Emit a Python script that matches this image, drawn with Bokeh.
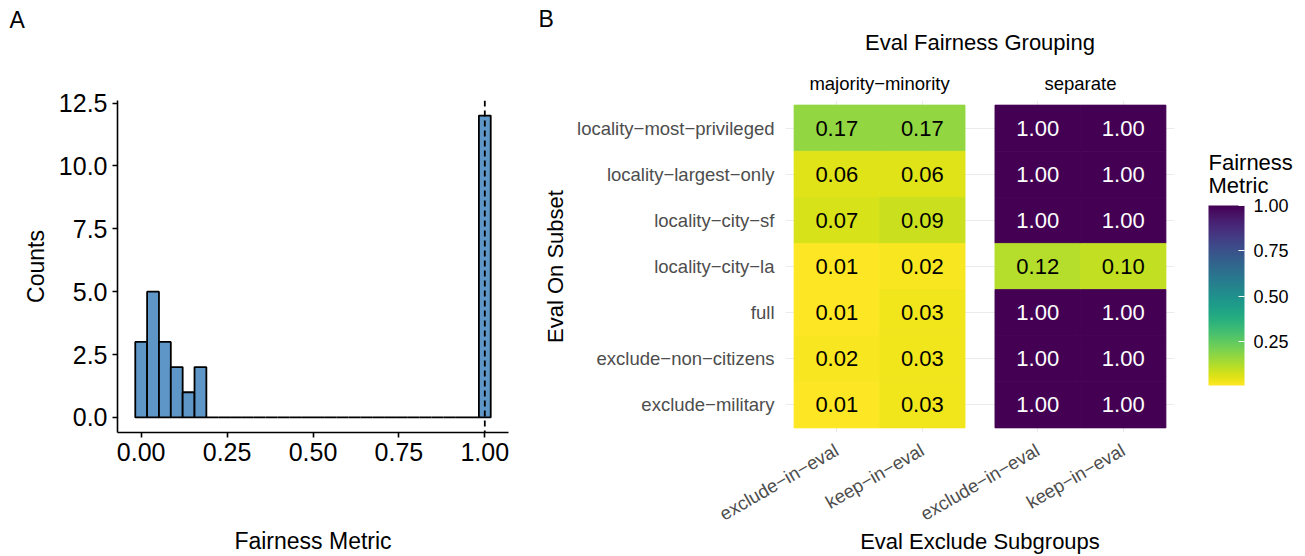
import numpy as np
from bokeh.plotting import figure
from bokeh.models import (ColumnDataSource, FactorRange, LinearColorMapper, ColorBar, FixedTicker,
                          NumeralTickFormatter, Span, Title, CategoricalAxis)
from bokeh.layouts import row
from bokeh.palettes import Viridis256
from bokeh.transform import transform
from bokeh.core.properties import value
from bokeh.embed import file_html
from bokeh.resources import INLINE

FONT = "Liberation Sans"

# ---------------- Panel A data ----------------
hist_counts = [3, 5, 3, 2, 1, 2, 0, 0, 0, 0, 0, 0, 0, 0, 0,
               0, 0, 0, 0, 0, 0, 0, 0, 0, 0, 0, 0, 0, 0, 12]
hist_binwidth = 1.0 / 29
a_xticks = [0.0, 0.25, 0.5, 0.75, 1.0]
a_yticks = [0.0, 2.5, 5.0, 7.5, 10.0, 12.5]
reference_line = 1.0

# ---------------- Panel B data ----------------
subsets = ["locality-most-privileged", "locality-largest-only", "locality-city-sf",
           "locality-city-la", "full", "exclude-non-citizens", "exclude-military"]
groupings = ["majority-minority", "separate"]
excludes = ["exclude-in-eval", "keep-in-eval"]
mm_exclude = [0.17, 0.06, 0.07, 0.01, 0.01, 0.02, 0.01]
mm_keep = [0.17, 0.06, 0.09, 0.02, 0.03, 0.03, 0.03]
sep_exclude = [1.00, 1.00, 1.00, 0.12, 1.00, 1.00, 1.00]
sep_keep = [1.00, 1.00, 1.00, 0.10, 1.00, 1.00, 1.00]
legend_title = ["Fairness", "Metric"]
legend_ticks = [0.25, 0.50, 0.75, 1.00]


def disp(s):
    return s.replace("-", "\u2212")


def panel_title(text, align, offset, standoff, size):
    t = Title(text=text, align=align, offset=offset, standoff=standoff)
    t.text_font = FONT
    t.text_font_size = size
    t.text_font_style = "normal"
    t.text_color = "black"
    return t


# ================= Panel A: histogram =================
centers = np.arange(len(hist_counts)) * hist_binwidth
srcA = ColumnDataSource(dict(left=centers - hist_binwidth / 2, right=centers + hist_binwidth / 2,
                             top=hist_counts, bottom=[0] * len(hist_counts)))
x_lo, x_hi = centers[0] - hist_binwidth / 2, centers[-1] + hist_binwidth / 2
x_pad = (x_hi - x_lo) * 0.05
y_pad = max(hist_counts) * 0.05

pA = figure(width=540, height=556, x_range=(x_lo - x_pad, x_hi + x_pad),
            y_range=(-y_pad, max(hist_counts) + y_pad), title=None,
            output_backend="svg", toolbar_location=None,
            min_border_left=117, min_border_right=32, min_border_top=100, min_border_bottom=123)
pA.quad(left="left", right="right", top="top", bottom="bottom", source=srcA,
        fill_color="#5E96C7", line_color="black", line_width=1.8)
pA.add_layout(Span(location=reference_line, dimension="height", line_color="black",
                   line_dash="6 4", line_width=1.8))
pA.xgrid.visible = False
pA.ygrid.visible = False
pA.outline_line_color = None
pA.background_fill_color = "white"
pA.border_fill_color = "white"
pA.xaxis.ticker = FixedTicker(ticks=a_xticks)
pA.yaxis.ticker = FixedTicker(ticks=a_yticks)
pA.xaxis.formatter = NumeralTickFormatter(format="0.00")
pA.yaxis.formatter = NumeralTickFormatter(format="0.0")
pA.xaxis.axis_label = "Fairness Metric"
pA.yaxis.axis_label = "Counts"
for ax in (pA.xaxis[0], pA.yaxis[0]):
    ax.axis_line_color = "black"
    ax.axis_line_width = 1.6
    ax.major_tick_line_color = "black"
    ax.major_tick_line_width = 1.6
    ax.major_tick_out = 5
    ax.major_tick_in = 0
    ax.minor_tick_line_color = None
    ax.major_label_text_font = FONT
    ax.major_label_text_font_size = "25px"
    ax.major_label_text_color = "black"
    ax.axis_label_text_font = FONT
    ax.axis_label_text_font_size = "23px"
    ax.axis_label_text_font_style = "normal"
    ax.axis_label_text_color = "black"
pA.xaxis.axis_label_standoff = 64
pA.yaxis.axis_label_standoff = 7
pA.add_layout(panel_title(" ", "left", 0, 55, "10px"), "above")   # spacer
pA.add_layout(panel_title("A", "left", -108, 0, "23px"), "above")

# ================= Panel B: heatmap =================
cols = {(groupings[0], excludes[0]): mm_exclude, (groupings[0], excludes[1]): mm_keep,
        (groupings[1], excludes[0]): sep_exclude, (groupings[1], excludes[1]): sep_keep}
xs, ys, vals, labels, tcolors = [], [], [], [], []
for (g, e), v in cols.items():
    for s, val in zip(subsets, v):
        xs.append((disp(g), disp(e)))
        ys.append(disp(s))
        vals.append(val)
        labels.append(f"{val:.2f}")
        tcolors.append("white" if val > 0.5 else "black")
srcB = ColumnDataSource(dict(x=xs, y=ys, v=vals, label=labels, tcolor=tcolors))

x_factors = [(disp(g), disp(e)) for g in groupings for e in excludes]
gp = 0.35
x_range = FactorRange(factors=x_factors, factor_padding=0.0, group_padding=gp,
                      range_padding=0.2 / (4 + gp), range_padding_units="percent")
y_factors = [disp(s) for s in subsets[::-1]]
y_range = FactorRange(factors=y_factors, range_padding=0.2 / len(y_factors),
                      range_padding_units="percent")

all_vals = mm_exclude + mm_keep + sep_exclude + sep_keep
mapper = LinearColorMapper(palette=list(Viridis256)[::-1], low=min(all_vals), high=max(all_vals))

pB = figure(width=644, height=556, x_range=x_range, y_range=y_range, title=None,
            output_backend="svg", toolbar_location=None, x_axis_location=None,
            min_border_left=245, min_border_right=10, min_border_top=100, min_border_bottom=123)
pB.rect(x="x", y="y", width=1, height=1, source=srcB,
        fill_color=transform("v", mapper), line_color=transform("v", mapper), line_width=0.8)
pB.text(x="x", y="y", text="label", source=srcB, text_color="tcolor",
        text_font=value(FONT), text_font_size="22px", text_align="center", text_baseline="middle")
pB.outline_line_color = None
pB.background_fill_color = "white"
pB.border_fill_color = "white"

xb = CategoricalAxis(axis_label="Eval Exclude Subgroups")
xb.major_label_orientation = np.pi / 6
xb.group_text_color = None
xb.major_label_standoff = 10
xt = CategoricalAxis()
xt.major_label_text_color = None
xt.group_text_color = "black"
xt.group_text_font = FONT
xt.group_text_font_size = "18.5px"
xt.group_text_font_style = "normal"
xt.major_label_standoff = 1
for ax in (xb, xt):
    ax.axis_line_color = None
    ax.major_tick_line_color = None
    ax.minor_tick_line_color = None
    ax.separator_line_color = None
    ax.major_label_text_font = FONT
    ax.major_label_text_font_size = "18.5px"
    ax.axis_label_text_font = FONT
    ax.axis_label_text_font_size = "22px"
    ax.axis_label_text_font_style = "normal"
    ax.axis_label_text_color = "black"
xb.major_label_text_color = "#4D4D4D"
xb.axis_label_standoff = -8
pB.add_layout(xb, "below")
pB.add_layout(xt, "above")
pB.add_layout(panel_title("Eval Fairness Grouping", "center", 0, 30, "22px"), "above")
pB.add_layout(panel_title("B", "left", -247, -38, "23px"), "above")

yax = pB.yaxis[0]
yax.axis_label = "Eval On Subset"
yax.axis_line_color = None
yax.major_tick_line_color = None
yax.minor_tick_line_color = None
yax.major_label_text_font = FONT
yax.major_label_text_font_size = "18.5px"
yax.major_label_text_color = "#4D4D4D"
yax.major_label_standoff = 5
yax.axis_label_text_font = FONT
yax.axis_label_text_font_size = "22px"
yax.axis_label_text_font_style = "normal"
yax.axis_label_text_color = "black"
yax.axis_label_standoff = 6

pB.xgrid.ticker = xb.ticker
pB.xgrid.grid_line_color = "#EBEBEB"
pB.ygrid.grid_line_color = "#EBEBEB"
pB.xgrid.grid_line_width = 1.2
pB.ygrid.grid_line_width = 1.2

# ================= Legend (colour bar) =================
# legend frame measured in pixels: x from its left edge, y up from its bottom edge
pC = figure(width=121, height=556, x_range=(0, 121), y_range=(0, 333), title=None,
            output_backend="svg", toolbar_location=None,
            x_axis_location=None, y_axis_location=None,
            min_border_left=0, min_border_right=0, min_border_top=100, min_border_bottom=123)
pC.xgrid.visible = False
pC.ygrid.visible = False
pC.outline_line_color = None
pC.background_fill_color = "white"
pC.border_fill_color = "white"
pC.text(x=[24, 24], y=[271, 248], text=legend_title, text_font=value(FONT),
        text_font_size="22px", text_align="left", text_baseline="middle", text_color="black")
cb = ColorBar(color_mapper=mapper, ticker=FixedTicker(ticks=legend_ticks),
              formatter=NumeralTickFormatter(format="0.00"),
              width=36, height=180, title=None,
              major_label_text_font=FONT, major_label_text_font_size="18px",
              major_label_text_color="black", label_standoff=9,
              major_tick_line_color="white", major_tick_line_width=1.2, major_tick_in=6, major_tick_out=0,
              minor_tick_line_color=None, bar_line_color=None, border_line_color=None,
              background_fill_color=None, padding=0, location=(24, 47))
pC.add_layout(cb, "center")

layout = row(pA, pB, pC)
open("out.html", "w").write(file_html(layout, INLINE))
